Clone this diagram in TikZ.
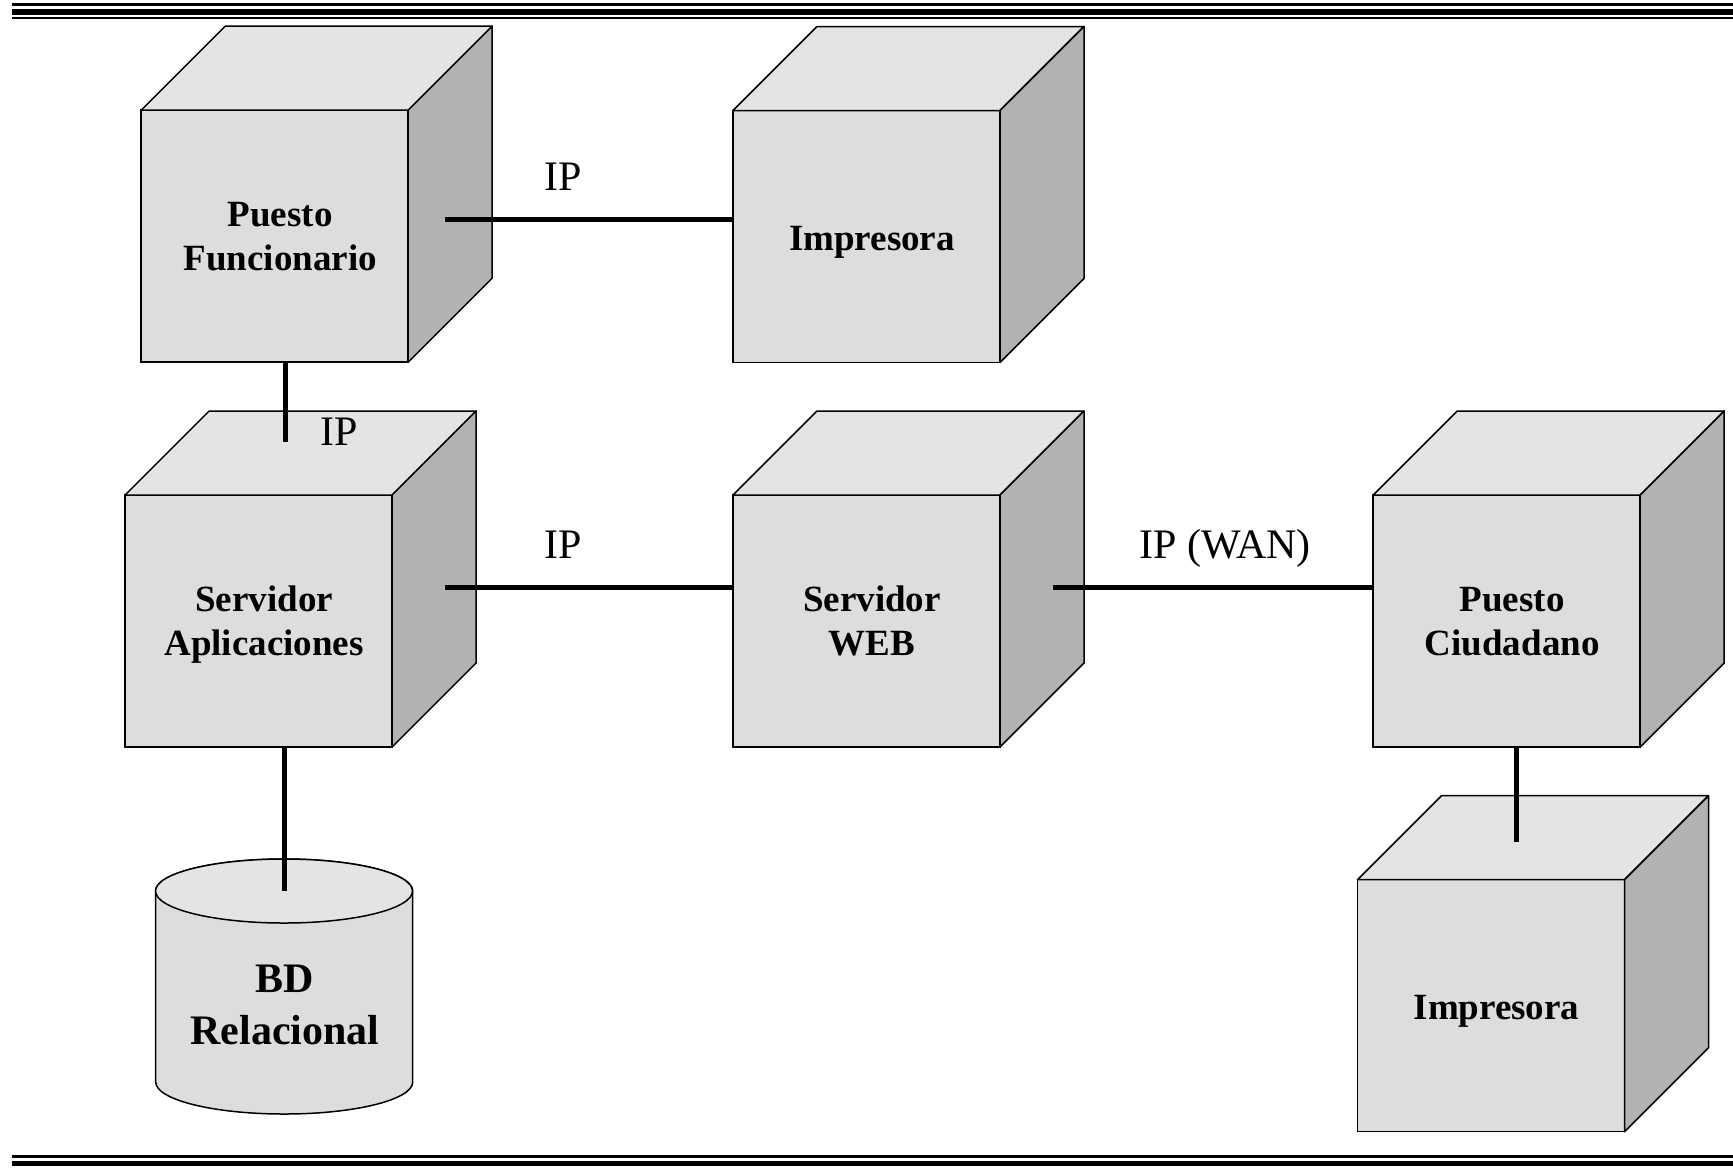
\documentclass[tikz,border=0pt]{standalone}
\usepackage{fontspec}
\setmainfont{Liberation Serif}
\usetikzlibrary{calc}
\definecolor{cfront}{gray}{0.867}
\definecolor{ctop}{gray}{0.894}
\definecolor{cside}{gray}{0.70}
\tikzset{
  front/.style={draw, fill=cfront, line width=0.75pt, minimum width=133.5pt, minimum height=126pt,
    inner sep=0pt, outer sep=0pt},
  ftext/.style={inner sep=0pt, align=center, font=\fontsize{18.5}{22}\selectfont\bfseries},
  facetop/.style={draw, fill=ctop, line width=0.75pt, line join=round},
  faceside/.style={draw, fill=cside, line width=0.75pt, line join=round},
  conn/.style={line width=2.5pt},
  lbl/.style={anchor=base, inner sep=0pt, font=\fontsize{21}{25}\selectfont},
  dbtext/.style={inner sep=0pt, align=center, font=\fontsize{21}{26}\selectfont\bfseries},
}
\newcommand\mycube[4]{%
  \node[front] (#1) at (#2) {};
  \node[ftext] (#1-t) at ([shift={(5.5,#4)}]#1.center) {#3};
  \draw[facetop] (#1.north west) -- ++(84,-84) -- ($(#1.north east)+(84,-84)$) -- (#1.north east) -- cycle;
  \draw[faceside] (#1.north east) -- ++(84,-84) -- ($(#1.south east)+(84,-84)$) -- (#1.south east) -- cycle;
}
\begin{document}
\begin{tikzpicture}[x=0.5pt,y=-0.5pt]
\useasboundingbox (0,0) rectangle (1733,1168);
% rules
\draw[line width=1.25pt] (12,4.5) -- (1733,4.5);
\draw[line width=3pt] (12,11.8) -- (1733,11.8);
\draw[line width=1.25pt] (12,17.8) -- (1733,17.8);
\draw[line width=1.5pt] (12,1156.7) -- (1733,1156.7);
\draw[line width=2.5pt] (12,1163.5) -- (1733,1163.5);
% cubes
\mycube{pf}{274.7,236.2}{Puesto\\Funcionario}{0}
\mycube{imp1}{866.5,236.5}{Impresora}{6}
\mycube{sa}{258.6,621}{Servidor\\Aplicaciones}{4}
\mycube{web}{866.5,621}{Servidor\\WEB}{0}
\mycube{pc}{1506.7,621}{Puesto\\Ciudadano}{1}
\mycube{imp2}{1491,1005.7}{Impresora}{6}
% cylinder
\coordinate (bdtop) at (284,891);
\draw[fill=cfront, line width=0.75pt] (155.7,891) -- (155.7,1082)
  arc[start angle=180, end angle=360, x radius=64.25pt, y radius=16pt]
  -- (412.7,891)
  arc[start angle=0, end angle=180, x radius=64.25pt, y radius=16pt] -- cycle;
\draw[fill=ctop, line width=0.75pt] (bdtop) ellipse [x radius=64.25pt, y radius=16pt];
\node[dbtext] (bd) at (285,1005) {BD\\Relacional};
% connectors
\coordinate (s1) at (445,219);
\draw[conn] (s1) -- (s1 -| imp1.west);
\coordinate (s4) at (285,442);
\draw[conn] (s4 |- pf.south) -- (s4);
\coordinate (s2) at (445,587);
\draw[conn] (s2) -- (s2 -| web.west);
\coordinate (s3) at (1053,587);
\draw[conn] (s3) -- (s3 -| pc.west);
\draw[conn] (bdtop |- sa.south) -- (bdtop);
\coordinate (s5) at (1516.4,842);
\draw[conn] (s5 |- pc.south) -- (s5);
% labels
\node[lbl] (l1) at (563,190.7) {IP};
\node[lbl] (l2) at (338.7,445) {IP};
\node[lbl] (l3) at (563,558.8) {IP};
\node[lbl] (l4) at (1224.9,558.3) {IP (WAN)};
\end{tikzpicture}
\end{document}
